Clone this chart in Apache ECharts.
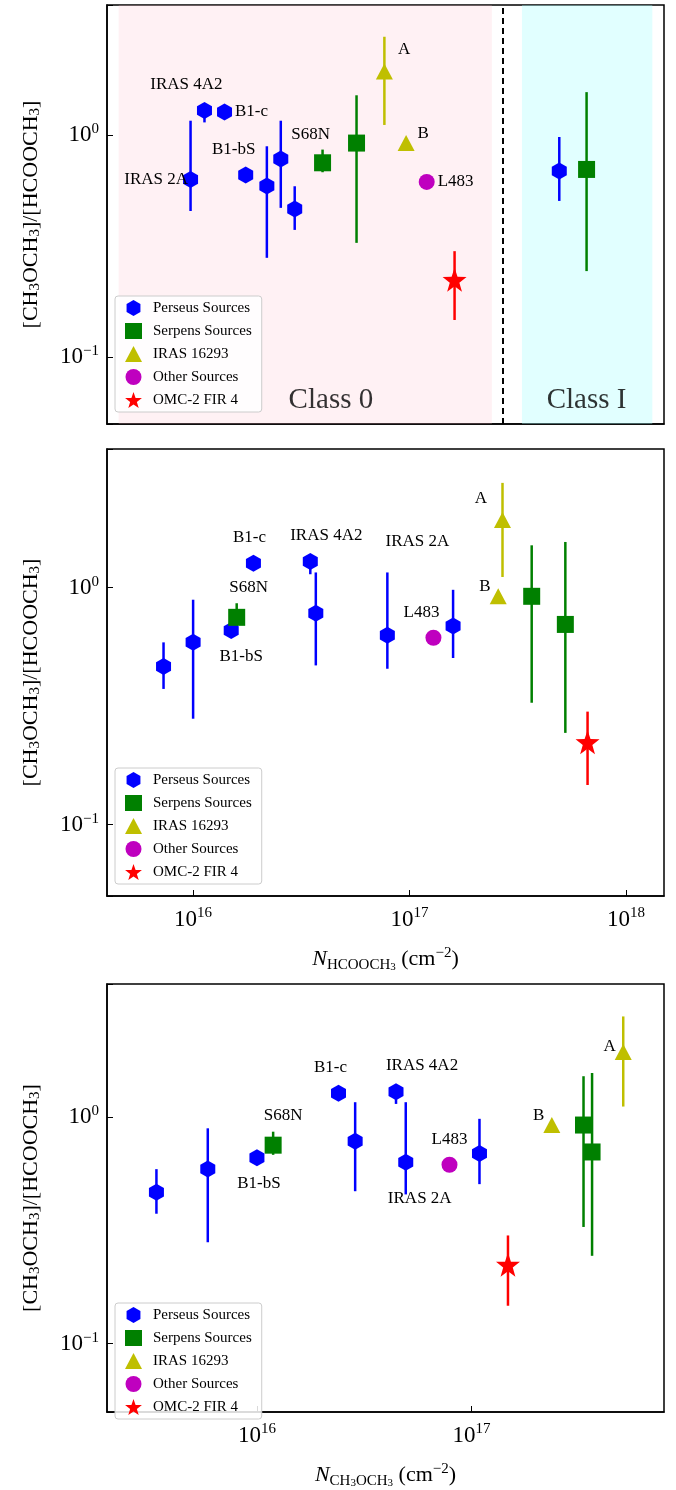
<!DOCTYPE html>
<html><head><meta charset="utf-8">
<script src="https://cdn.jsdelivr.net/npm/echarts@6/dist/echarts.min.js"></script>
<style>html,body{margin:0;padding:0;background:#fff}#c{width:676px;height:1490px}</style>
</head><body><div id="c"></div>
<script>
// ---------- DATA ----------
// Panel 1: arbitrary ordering position (0-100), ratio, err low, err high
const p1Perseus = [[15.0,0.63,0.455,1.16],[17.5,1.29,1.14,1.29],[21.1,1.27,1.27,1.27],[24.9,0.66,0.66,0.66],[28.7,0.589,0.28,0.89],[31.2,0.78,0.47,1.16],[33.7,0.465,0.374,0.588],[81.2,0.689,0.505,0.98]];
const p1PerseusNames = ['IRAS 2A','IRAS 4A2','B1-c','B1-bS','','','',''];
const p1Serpens = [[38.7,0.75,0.68,0.86],[44.8,0.92,0.327,1.51],[86.1,0.70,0.244,1.56]];
const p1SerpensNames = ['S68N','',''];
const p1Iras = [[49.8,1.93,1.11,2.77],[53.7,0.92,0.92,0.92]];
const p1Other = [[57.4,0.615,0.615,0.615]];
const p1Omc = [[62.4,0.223,0.147,0.30]];
// Panel 2: N(HCOOCH3)
const p2Perseus = [[7.3e15,0.465,0.374,0.588],[1.0e16,0.589,0.28,0.89],[1.5e16,0.66,0.66,0.66],[1.9e16,1.27,1.27,1.27],[3.48e16,1.29,1.14,1.29],[3.69e16,0.78,0.47,1.16],[7.9e16,0.63,0.455,1.16],[1.59e17,0.689,0.505,0.98]];
const p2Serpens = [[1.59e16,0.75,0.68,0.86],[3.67e17,0.92,0.327,1.51],[5.25e17,0.70,0.244,1.56]];
const p2Iras = [[2.69e17,1.93,1.11,2.77],[2.57e17,0.92,0.92,0.92]];
const p2Other = [[1.29e17,0.615,0.615,0.615]];
const p2Omc = [[6.65e17,0.223,0.147,0.30]];
// Panel 3: N(CH3OCH3)
const p3Perseus = [[3.4e15,0.465,0.374,0.588],[5.9e15,0.589,0.28,0.89],[1.0e16,0.66,0.66,0.66],[2.4e16,1.27,1.27,1.27],[4.45e16,1.29,1.14,1.29],[2.87e16,0.78,0.47,1.16],[4.94e16,0.63,0.455,1.16],[1.09e17,0.689,0.505,0.98]];
const p3Serpens = [[1.19e16,0.75,0.68,0.86],[3.33e17,0.92,0.327,1.51],[3.65e17,0.70,0.244,1.56]];
const p3Iras = [[5.1e17,1.93,1.11,2.77],[2.37e17,0.92,0.92,0.92]];
const p3Other = [[7.9e16,0.615,0.615,0.615]];
const p3Omc = [[1.48e17,0.223,0.147,0.30]];
const perseusNames = ['','','B1-bS','B1-c','IRAS 4A2','','IRAS 2A',''];
const serpensNames = ['S68N','',''];
const irasNames = ['A','B'];
const otherNames = ['L483'];
const legendNames = ['Perseus Sources','Serpens Sources','IRAS 16293','Other Sources','OMC-2 FIR 4'];

// ---------- STYLE ----------
const F = 'Liberation Serif';
const hex = 'path://M0,-1L0.866,-0.5L0.866,0.5L0,1L-0.866,0.5L-0.866,-0.5Z';
let st = 'path://';
for (let i=0;i<10;i++){const r=i%2?0.4:1;const a=-Math.PI/2+i*Math.PI/5;st+=(i?'L':'M')+(r*Math.cos(a)).toFixed(3)+','+(r*Math.sin(a)).toFixed(3);} st+='Z';
const groups = [
 {name:legendNames[0], color:'#0000ff', symbol:hex, size:[15,17]},
 {name:legendNames[1], color:'#008000', symbol:'rect', size:17},
 {name:legendNames[2], color:'#bfbf00', symbol:'triangle', size:[17,16]},
 {name:legendNames[3], color:'#bf00bf', symbol:'circle', size:[16,16]},
 {name:legendNames[4], color:'#ff0000', symbol:st, size:24}
];
const grids = [
 {left:107,right:12,top:5,height:419},
 {left:107,right:12,top:449,height:447},
 {left:107,right:12,top:984,height:447}
];
const sup = v => {const e=Math.round(Math.log10(v));return '{b|10}{s|'+(e<0?'−'+(-e):e)+'}';};
const isDec = v => {const l=Math.log10(v);return Math.abs(l-Math.round(l))<1e-6;};
const yName = '{n|[CH}{sub|3}{n|OCH}{sub|3}{n|]/[HCOOCH}{sub|3}{n|]}';
const yRich = {n:{fontFamily:F,fontSize:22,color:'#000'},sub:{fontFamily:F,fontSize:15,color:'#000',verticalAlign:'bottom',padding:[9,0,0,0]}};
const tickRich = {b:{fontFamily:F,fontSize:23,color:'#000'},s:{fontFamily:F,fontSize:15,color:'#000',verticalAlign:'top',padding:[0,0,12,0]}};

const xAxes=[], yAxes=[], series=[], legends=[];
for (let g=0; g<3; g++){
  if (g===0) xAxes.push({gridIndex:0,type:'value',min:0,max:100,axisLabel:{show:false},axisTick:{show:false},splitLine:{show:false},axisLine:{lineStyle:{color:'#000',width:1.5}}});
  else {
    const nm = g===1 ? '{i|N}{sub|HCOOCH}{sub2|3}{n| (cm}{sup|−2}{n|)}' : '{i|N}{sub|CH}{sub2|3}{sub|OCH}{sub2|3}{n| (cm}{sup|−2}{n|)}';
    xAxes.push({gridIndex:g,type:'log',logBase:10,min:g===1?4e15:2e15,max:g===1?1.5e18:7.9e17,
      name:nm,nameLocation:'middle',nameGap:50,
      nameTextStyle:{rich:{i:{fontFamily:F,fontStyle:'italic',fontSize:22,color:'#000'},n:{fontFamily:F,fontSize:22,color:'#000'},sub:{fontFamily:F,fontSize:15,color:'#000',verticalAlign:'bottom',padding:[9,0,0,0]},sub2:{fontFamily:F,fontSize:11,color:'#000',verticalAlign:'bottom',padding:[12,0,0,0]},sup:{fontFamily:F,fontSize:15,color:'#000',verticalAlign:'top',padding:[0,0,12,0]}}},
      axisLabel:{formatter:v=>isDec(v)?sup(v):'',showMinLabel:false,showMaxLabel:false,rich:tickRich,margin:10},
      axisTick:{inside:true,length:6,lineStyle:{color:'#000'}},
      splitLine:{show:false},axisLine:{lineStyle:{color:'#000',width:1.5}}});
  }
  yAxes.push({gridIndex:g,type:'log',logBase:10,min:0.05,max:3.85,
    name:yName,nameLocation:'middle',nameGap:64,nameRotate:90,nameTextStyle:{rich:yRich},
    axisLabel:{formatter:v=>isDec(v)?sup(v):'',rich:tickRich,margin:8},
    axisTick:{inside:true,length:6,lineStyle:{color:'#000'}},
    splitLine:{show:false},axisLine:{lineStyle:{color:'#000',width:1.5}}});
  legends.push({data:legendNames,orient:'vertical',left:115,top:grids[g].top+grids[g].height-128,
    itemGap:7,itemWidth:17,itemHeight:16,padding:[4,10,4,10],
    backgroundColor:'rgba(255,255,255,0.85)',borderColor:'#ccc',borderWidth:1,borderRadius:3,
    textStyle:{fontFamily:F,fontSize:15,color:'#000',padding:[0,0,0,6]},selectedMode:false});
}

const LS = 17;
const labelCfg = {
  0:{'IRAS 2A':{position:'left',offset:[10,0]},'IRAS 4A2':{position:'top',offset:[-18,-4]},'B1-c':{position:'right',offset:[-2,0]},'B1-bS':{position:'top',offset:[-12,-4]},'S68N':{position:'top',offset:[-12,-6]},'A':{position:'right',offset:[0,-22]},'B':{position:'right',offset:[-2,-10]},'L483':{position:'right',offset:[-2,0]}},
  1:{'B1-c':{position:'top',offset:[-4,-4]},'IRAS 4A2':{position:'top',offset:[16,-4]},'IRAS 2A':{position:'top',offset:[30,-72]},'S68N':{position:'top',offset:[12,-8]},'B1-bS':{position:'bottom',offset:[10,4]},'L483':{position:'top',offset:[-12,-4]},'A':{position:'left',offset:[-2,-22]},'B':{position:'left',offset:[6,-10]}},
  2:{'B1-c':{position:'top',offset:[-8,-4]},'IRAS 4A2':{position:'top',offset:[26,-4]},'IRAS 2A':{position:'bottom',offset:[14,14]},'S68N':{position:'top',offset:[10,-8]},'B1-bS':{position:'bottom',offset:[2,4]},'L483':{position:'top',offset:[0,-4]},'A':{position:'left',offset:[6,-6]},'B':{position:'left',offset:[6,-10]}}
};
const panels = [
 [[p1Perseus,p1PerseusNames],[p1Serpens,p1SerpensNames],[p1Iras,irasNames],[p1Other,otherNames],[p1Omc,['']]],
 [[p2Perseus,perseusNames],[p2Serpens,serpensNames],[p2Iras,irasNames],[p2Other,otherNames],[p2Omc,['']]],
 [[p3Perseus,perseusNames],[p3Serpens,serpensNames],[p3Iras,irasNames],[p3Other,otherNames],[p3Omc,['']]]
];
panels.forEach((pan,g)=>{
  if (g===0){
    series.push({type:'scatter',xAxisIndex:0,yAxisIndex:0,data:[],silent:true,z:0,
      markArea:{silent:true,data:[[{xAxis:2.1,itemStyle:{color:'rgba(255,192,203,0.22)'}},{xAxis:69.1}],[{xAxis:74.5,itemStyle:{color:'rgba(170,255,255,0.35)'}},{xAxis:97.9}]]},
      markLine:{silent:true,symbol:'none',label:{show:false},lineStyle:{color:'#000',type:[6,4],width:2},data:[{xAxis:71.1}]}});
    series.push({type:'scatter',xAxisIndex:0,yAxisIndex:0,symbolSize:0,silent:true,
      data:[{value:[40.2,0.064],name:'Class 0'},{value:[86.1,0.064],name:'Class I'}],
      label:{show:true,position:'inside',formatter:'{b}',fontFamily:F,fontSize:29,color:'#000'}});
  }
  pan.forEach(([arr,names],k)=>{
    const gr = groups[k];
    series.push({type:'custom',xAxisIndex:g,yAxisIndex:g,silent:true,z:2,
      data:arr.map(d=>[d[0],d[2],d[3]]),
      renderItem:(params,api)=>{const a=api.coord([api.value(0),api.value(1)]),b=api.coord([api.value(0),api.value(2)]);
        return {type:'line',shape:{x1:a[0],y1:a[1],x2:b[0],y2:b[1]},style:{stroke:gr.color,lineWidth:2.5}};}});
    series.push({type:'scatter',name:gr.name,xAxisIndex:g,yAxisIndex:g,symbol:gr.symbol,symbolSize:gr.size,z:3,
      itemStyle:{color:gr.color,opacity:1},
      data:arr.map((d,i)=>{const nm=names[i]||'';const item={value:[d[0],d[1]],name:nm};
        if(nm){const c=labelCfg[g][nm]||{position:'top'};item.label={show:true,formatter:nm,position:c.position,offset:c.offset,fontFamily:F,fontSize:LS,color:'#000'};}
        return item;})});
  });
});

const chart = echarts.init(document.getElementById('c'),null,{renderer:'canvas'});
chart.setOption({animation:false,backgroundColor:'#fff',
  grid:grids.map(g=>Object.assign({show:true,borderColor:'#000',borderWidth:1.5,backgroundColor:'transparent'},g)),
  xAxis:xAxes,yAxis:yAxes,legend:legends,series});
</script></body></html>
